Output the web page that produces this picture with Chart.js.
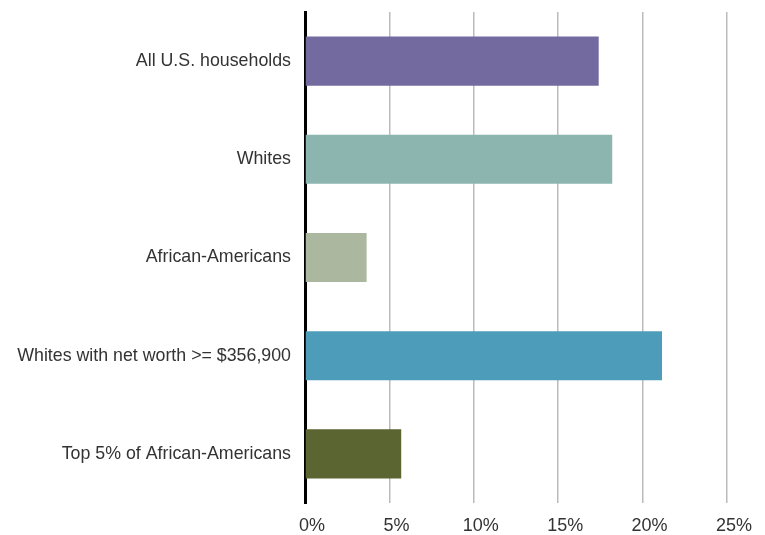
<!DOCTYPE html>
<html>
<head>
<meta charset="utf-8">
<script src="https://cdn.jsdelivr.net/npm/chart.js@4"></script>
<style>
  html, body { margin: 0; padding: 0; background: #fff; }
  #wrap { width: 765px; height: 535px; }
</style>
</head>
<body>
<div id="wrap"><canvas id="shareChart" width="765" height="535"></canvas></div>
<script>
// Chart data
const groups = [
    "All U.S. households",
    "Whites",
    "African-Americans",
    "Whites with net worth >= $356,900",
    "Top 5% of African-Americans"
];
const shares = [17.4, 18.2, 3.65, 21.15, 5.7];
const barColors = ["#736b9f", "#8db5b0", "#abb79f", "#4c9cba", "#5b6531"];
const xTicks = [0, 5, 10, 15, 20, 25];

new Chart(document.getElementById("shareChart"), {
    type: "bar",
    data: {
        labels: groups,
        datasets: [{
            data: shares,
            backgroundColor: barColors,
            borderWidth: 0,
            barPercentage: 0.5,
            categoryPercentage: 1
        }]
    },
    options: {
        indexAxis: "y",
        responsive: false,
        animation: false,
        layout: {
            padding: { top: 12, right: 38, bottom: 0, left: 0 }
        },
        plugins: {
            legend: { display: false },
            tooltip: { enabled: false }
        },
        scales: {
            x: {
                min: 0,
                max: 25,
                afterBuildTicks: function(scale) {
                    scale.ticks = xTicks.map(v => ({ value: v }));
                },
                afterFit: function(scale) {
                    scale.height = 32;
                },
                ticks: {
                    font: { family: "'Liberation Sans', Arial, sans-serif", size: 18 },
                    color: "#333",
                    padding: 12,
                    labelOffset: 7,
                    maxRotation: 0,
                    callback: function(value) {
                        return value + "%";
                    }
                },
                grid: {
                    color: "#bbbbbb",
                    lineWidth: 1.5,
                    drawTicks: false
                },
                border: { display: false }
            },
            y: {
                afterFit: function(scale) {
                    scale.width = 305;
                    // labels sit mid-band, no extra room needed above or below
                    scale.paddingTop = 0;
                    scale.paddingBottom = 0;
                },
                ticks: {
                    font: { family: "'Liberation Sans', Arial, sans-serif", size: 17.8 },
                    color: "#333",
                    padding: 14
                },
                grid: {
                    display: false,
                    drawTicks: false
                },
                border: { color: "#000", width: 3 }
            }
        }
    }
});
</script>
</body>
</html>
